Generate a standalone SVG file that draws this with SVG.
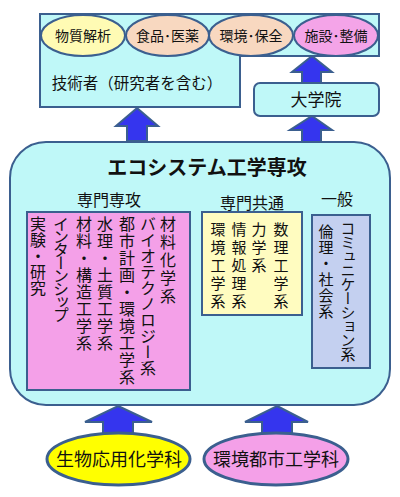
<svg xmlns="http://www.w3.org/2000/svg" width="400" height="497" viewBox="0 0 400 497">
<style>
.bx{stroke:#3b5f8f;stroke-width:2}
.cy{fill:#bff8f8}
.t{font-family:"Noto Sans CJK JP","Noto Sans CJK SC",sans-serif;fill:#111}
.v{writing-mode:vertical-rl;text-orientation:upright}
.arr{fill:#3535ee;stroke:#3b5f8f;stroke-width:2;stroke-linejoin:miter}
</style>
<rect width="400" height="497" fill="#ffffff"/>
<g id="connectors">
<polygon class="arr" points="137,108 158,126 147,126 147,141 127,141 127,126 116,126"/>
<polygon class="arr" points="312,56 332,72 321,72 321,84 302,84 302,72 292,72"/>
<polygon class="arr" points="312,116 332,130 321,130 321,143 302,143 302,130 290,130"/>
<polygon class="arr" points="118,406 152,422 133,422 133,436 103,436 103,422 85,422"/>
<polygon class="arr" points="277,406 308,422 292,422 292,436 262,436 262,422 245,422"/>
</g>
<g id="engineers">
<polygon class="bx cy" points="40,14 379,14 379,56 240,56 240,107 40,107"/>
<text class="t" x="137" y="89" font-size="15.5" text-anchor="middle">技術者（研究者を含む）</text>
</g>
<g id="field-material">
<ellipse class="bx" cx="83" cy="35.5" rx="42" ry="20.5" fill="#fffbb4"/>
<text class="t" x="83" y="41" font-size="14" text-anchor="middle">物質解析</text>
</g>
<g id="field-food">
<ellipse class="bx" cx="167.5" cy="35.5" rx="41.5" ry="20.5" fill="#f8d8c0"/>
<text class="t" x="167.5" y="41" font-size="14" text-anchor="middle">食品･医薬</text>
</g>
<g id="field-env">
<ellipse class="bx" cx="251" cy="35.5" rx="42" ry="20.5" fill="#f8d8c0"/>
<text class="t" x="251" y="41" font-size="14" text-anchor="middle">環境･保全</text>
</g>
<g id="field-facility">
<ellipse class="bx" cx="336" cy="35.5" rx="42" ry="20.5" fill="#f4a4e8"/>
<text class="t" x="336" y="41" font-size="14" text-anchor="middle">施設･整備</text>
</g>
<g id="graduate">
<rect class="bx cy" x="254" y="83" width="125" height="33" rx="6"/>
<text class="t" x="316" y="106" font-size="17" text-anchor="middle">大学院</text>
</g>
<g id="ecosystem">
<rect class="bx cy" x="10" y="142" width="380" height="263" rx="36"/>
<text class="t" x="207" y="175" font-size="20" font-weight="bold" text-anchor="middle">エコシステム工学専攻</text>
<text class="t" x="109" y="206" font-size="16" text-anchor="middle">専門専攻</text>
<text class="t" x="252" y="209" font-size="16" text-anchor="middle">専門共通</text>
<text class="t" x="337" y="205" font-size="16" text-anchor="middle">一般</text>
</g>
<g id="major">
<rect class="bx" x="27" y="212" width="163" height="178" fill="#f4a0e8"/>
<g class="t" font-size="16">
<text class="v" x="168" y="216" letter-spacing="2">材料化学系</text>
<text class="v" x="148" y="216" letter-spacing="0">バイオテクノロジー系</text>
<text class="v" x="127" y="216" letter-spacing="1">都市計画・環境工学系</text>
<text class="v" x="105" y="216" letter-spacing="1">水理・土質工学系</text>
<text class="v" x="84" y="216" letter-spacing="1">材料・構造工学系</text>
<text class="v" x="61" y="216" letter-spacing="-3">インターンシップ</text>
<text class="v" x="38" y="216" letter-spacing="0">実験・研究</text>
</g>
</g>
<g id="common">
<rect class="bx" x="202" y="212" width="100" height="103" fill="#fffcc0"/>
<g class="t" font-size="15">
<text class="v" x="281" y="222" letter-spacing="3">数理工学系</text>
<text class="v" x="259" y="222" letter-spacing="3">力学系</text>
<text class="v" x="239" y="222" letter-spacing="3">情報処理系</text>
<text class="v" x="218" y="222" letter-spacing="3">環境工学系</text>
</g>
</g>
<g id="general">
<rect class="bx" x="312" y="215" width="58" height="153" fill="#c4d0f0"/>
<g class="t" font-size="15">
<text class="v" x="348" y="221" letter-spacing="-1">コミュニケーション系</text>
<text class="v" x="326" y="224" letter-spacing="1">倫理・社会系</text>
</g>
</g>
<g id="dept-bio">
<ellipse cx="118.5" cy="459" rx="71.5" ry="26" fill="#ffff00" stroke="#3b5f8f" stroke-width="3"/>
<text class="t" x="119" y="466" font-size="18" text-anchor="middle">生物応用化学科</text>
</g>
<g id="dept-civil">
<ellipse cx="276" cy="459" rx="72" ry="26" fill="#f4a0e8" stroke="#3b5f8f" stroke-width="3"/>
<text class="t" x="276" y="466" font-size="18" text-anchor="middle">環境都市工学科</text>
</g>
</svg>
